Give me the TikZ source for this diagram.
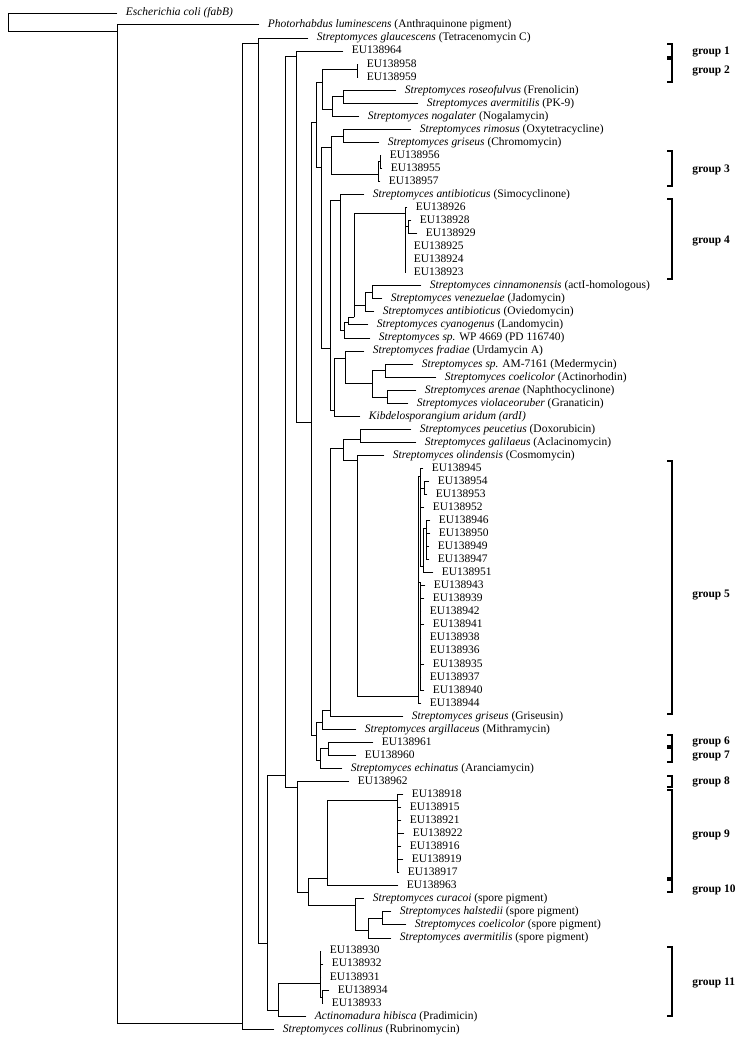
\documentclass[tikz,border=0pt]{standalone}
\usepackage{fontspec}
\setmainfont{Liberation Serif}

\tikzset{
  leaf/.style={anchor=west, inner xsep=6.5pt, inner ysep=0pt, text height=6.2pt, text depth=1.8pt, font=\fontsize{8.6}{10}\selectfont},
  grp/.style={anchor=west, inner sep=0pt, font=\fontsize{8.6}{10}\selectfont\bfseries},
  branch/.style={line width=0.7pt, line cap=rect},
  brk/.style={line width=0.9pt}
}

\begin{document}
\begin{tikzpicture}[x=0.75pt, y=-0.75pt]
    \useasboundingbox (0,0) rectangle (745,1040);

    % leaves
    \node[leaf] (ecoli) at (117,13) {\textit{Escherichia coli (fabB)}};
    \node[leaf] (photo) at (259,24.5) {\textit{Photorhabdus luminescens} (Anthraquinone pigment)};
    \node[leaf] (glauc) at (308,38) {\textit{Streptomyces glaucescens} (Tetracenomycin C)};
    \node[leaf] (eu964) at (343,51) {EU138964};
    \node[leaf] (eu958) at (358,64.1) {EU138958};
    \node[leaf] (eu959) at (358,77.1) {EU138959};
    \node[leaf] (roseo) at (396,90.2) {\textit{Streptomyces roseofulvus} (Frenolicin)};
    \node[leaf] (averm) at (418,103.2) {\textit{Streptomyces avermitilis} (PK-9)};
    \node[leaf] (nogal) at (359,116.3) {\textit{Streptomyces nogalater} (Nogalamycin)};
    \node[leaf] (rimos) at (411,129.3) {\textit{Streptomyces rimosus} (Oxytetracycline)};
    \node[leaf] (grisc) at (379,142.3) {\textit{Streptomyces griseus} (Chromomycin)};
    \node[leaf] (eu956) at (381,155.4) {EU138956};
    \node[leaf] (eu955) at (382,168.4) {EU138955};
    \node[leaf] (eu957) at (380,181.5) {EU138957};
    \node[leaf] (simo) at (364,194.5) {\textit{Streptomyces antibioticus} (Simocyclinone)};
    \node[leaf] (eu926) at (407,207.6) {EU138926};
    \node[leaf] (eu928) at (411,220.6) {EU138928};
    \node[leaf] (eu929) at (417,233.6) {EU138929};
    \node[leaf] (eu925) at (405,246.7) {EU138925};
    \node[leaf] (eu924) at (405,259.7) {EU138924};
    \node[leaf] (eu923) at (405,272.8) {EU138923};
    \node[leaf] (cinna) at (421,285.8) {\textit{Streptomyces cinnamonensis} (actI-homologous)};
    \node[leaf] (venez) at (382,298.9) {\textit{Streptomyces venezuelae} (Jadomycin)};
    \node[leaf] (ovied) at (374,311.9) {\textit{Streptomyces antibioticus} (Oviedomycin)};
    \node[leaf] (cyano) at (368,324.9) {\textit{Streptomyces cyanogenus} (Landomycin)};
    \node[leaf] (wp) at (370,338) {\textit{Streptomyces sp.} WP 4669 (PD 116740)};
    \node[leaf] (fradi) at (364,351) {\textit{Streptomyces fradiae} (Urdamycin A)};
    \node[leaf] (am) at (413,364.1) {\textit{Streptomyces sp.} AM-7161 (Medermycin)};
    \node[leaf] (coeli) at (436,377.1) {\textit{Streptomyces coelicolor} (Actinorhodin)};
    \node[leaf] (arena) at (416,390.2) {\textit{Streptomyces arenae} (Naphthocyclinone)};
    \node[leaf] (viola) at (408,403.2) {\textit{Streptomyces violaceoruber} (Granaticin)};
    \node[leaf] (kibde) at (360,416.2) {\textit{Kibdelosporangium aridum (ardI)}};
    \node[leaf] (peuce) at (411,429.3) {\textit{Streptomyces peucetius} (Doxorubicin)};
    \node[leaf] (galil) at (416,442.3) {\textit{Streptomyces galilaeus} (Aclacinomycin)};
    \node[leaf] (olind) at (384,455.4) {\textit{Streptomyces olindensis} (Cosmomycin)};
    \node[leaf] (eu945) at (423,468.4) {EU138945};
    \node[leaf] (eu954) at (429,481.5) {EU138954};
    \node[leaf] (eu953) at (427,494.5) {EU138953};
    \node[leaf] (eu952) at (424,507.5) {EU138952};
    \node[leaf] (eu946) at (430,520.6) {EU138946};
    \node[leaf] (eu950) at (430,533.6) {EU138950};
    \node[leaf] (eu949) at (429,546.7) {EU138949};
    \node[leaf] (eu947) at (429,559.7) {EU138947};
    \node[leaf] (eu951) at (433,572.8) {EU138951};
    \node[leaf] (eu943) at (425,585.8) {EU138943};
    \node[leaf] (eu939) at (424,598.8) {EU138939};
    \node[leaf] (eu942) at (421,611.9) {EU138942};
    \node[leaf] (eu941) at (424,624.9) {EU138941};
    \node[leaf] (eu938) at (421,638) {EU138938};
    \node[leaf] (eu936) at (421,651) {EU138936};
    \node[leaf] (eu935) at (424,664.1) {EU138935};
    \node[leaf] (eu937) at (421,677.1) {EU138937};
    \node[leaf] (eu940) at (424,690.1) {EU138940};
    \node[leaf] (eu944) at (421,703.2) {EU138944};
    \node[leaf] (grisg) at (403,716.2) {\textit{Streptomyces griseus} (Griseusin)};
    \node[leaf] (argil) at (356,729.3) {\textit{Streptomyces argillaceus} (Mithramycin)};
    \node[leaf] (eu961) at (373,742.3) {EU138961};
    \node[leaf] (eu960) at (356,755.4) {EU138960};
    \node[leaf] (echin) at (342,768.4) {\textit{Streptomyces echinatus} (Aranciamycin)};
    \node[leaf] (eu962) at (349,781.4) {EU138962};
    \node[leaf] (eu918) at (403,794.5) {EU138918};
    \node[leaf] (eu915) at (401,807.5) {EU138915};
    \node[leaf] (eu921) at (401,820.6) {EU138921};
    \node[leaf] (eu922) at (404,833.6) {EU138922};
    \node[leaf] (eu916) at (401,846.7) {EU138916};
    \node[leaf] (eu919) at (403,859.7) {EU138919};
    \node[leaf] (eu917) at (399,872.7) {EU138917};
    \node[leaf] (eu963) at (398,885.8) {EU138963};
    \node[leaf] (curac) at (364,898.8) {\textit{Streptomyces curacoi} (spore pigment)};
    \node[leaf] (halst) at (391,911.9) {\textit{Streptomyces halstedii} (spore pigment)};
    \node[leaf] (coesp) at (406,924.9) {\textit{Streptomyces coelicolor} (spore pigment)};
    \node[leaf] (avesp) at (391,938) {\textit{Streptomyces avermitilis} (spore pigment)};
    \node[leaf] (eu930) at (321,951) {EU138930};
    \node[leaf] (eu932) at (323,964) {EU138932};
    \node[leaf] (eu931) at (321,977.1) {EU138931};
    \node[leaf] (eu934) at (329,990.1) {EU138934};
    \node[leaf] (eu933) at (323,1003.2) {EU138933};
    \node[leaf] (hibis) at (306,1016.2) {\textit{Actinomadura hibisca} (Pradimicin)};
    \node[leaf] (colli) at (274,1029.3) {\textit{Streptomyces collinus} (Rubrinomycin)};

    % inner nodes
    \coordinate (root) at (8,22);
    \coordinate (A) at (117,31);
    \coordinate (B) at (242,1023);
    \coordinate (C) at (258,43);
    \coordinate (D) at (267,943);
    \coordinate (E) at (285,775);
    \coordinate (G) at (296,56);
    \coordinate (J) at (311,422);
    \coordinate (K) at (316,122);
    \coordinate (M) at (322,82);
    \coordinate (G2n) at (357,69);
    \coordinate (P) at (332,109);
    \coordinate (Q) at (343,96);
    \coordinate (N) at (321,167);
    \coordinate (O) at (331,147);
    \coordinate (RG) at (343,136);
    \coordinate (G3) at (378,174);
    \coordinate (G3a) at (380,161);
    \coordinate (S) at (330,348);
    \coordinate (T) at (340,200);
    \coordinate (T2) at (344,330);
    \coordinate (T3) at (348,322);
    \coordinate (T4) at (354,317);
    \coordinate (T5) at (365,305);
    \coordinate (T6) at (372,292);
    \coordinate (G4) at (405,213);
    \coordinate (G4b) at (408,226);
    \coordinate (S2) at (334,410);
    \coordinate (FR) at (345,358);
    \coordinate (FR2) at (372,383);
    \coordinate (AMC) at (385,370);
    \coordinate (AVn) at (387,397);
    \coordinate (L) at (316,735);
    \coordinate (V) at (322,722);
    \coordinate (U) at (330,710);
    \coordinate (X) at (343,448);
    \coordinate (Y) at (360,439);
    \coordinate (Z) at (357,460);
    \coordinate (G5) at (418,696);
    \coordinate (G5a) at (420,476);
    \coordinate (G5c) at (424,488);
    \coordinate (G5d) at (423,566);
    \coordinate (G5e) at (426,528);
    \coordinate (G5b) at (420,582);
    \coordinate (W) at (320,760);
    \coordinate (W2) at (328,748);
    \coordinate (H) at (297,787);
    \coordinate (I) at (308,892);
    \coordinate (G9) at (327,878);
    \coordinate (G9b) at (397,800);
    \coordinate (SP) at (355,905);
    \coordinate (SP2) at (368,930);
    \coordinate (SP3) at (382,918);
    \coordinate (F) at (278,1010);
    \coordinate (G11) at (320,983);
    \coordinate (G11b) at (322,997);

    % vertical bars of the clades
    \foreach \p/\a/\b in {root/ecoli/A, A/photo/B, B/C/colli, C/glauc/D, D/E/F, E/G/H,
        G/eu964/J, J/K/L, K/M/N, M/G2n/P, G2n/eu958/eu959, P/Q/nogal, Q/roseo/averm,
        N/O/S, O/RG/G3, RG/rimos/grisc, G3/G3a/eu957, G3a/eu956/eu955, S/T/S2,
        T/simo/T2, T2/T3/wp, T3/T4/cyano, T4/G4/T4, G4/eu926/eu923, G4b/eu928/eu929,
        T5/T6/ovied, T6/cinna/venez, S2/FR/kibde, FR/fradi/FR2, FR2/AMC/AVn,
        AMC/am/coeli, AVn/arena/viola, L/V/W, V/U/argil, U/X/grisg, X/Y/Z,
        Y/peuce/galil, Z/olind/G5, G5/G5a/eu944, G5a/eu945/G5d, G5c/eu954/eu953,
        G5d/G5e/eu951, G5e/eu946/eu947, G5b/G5b/eu940, W/W2/echin, W2/eu961/eu960,
        H/eu962/I, I/G9/SP, G9/G9b/eu963, G9b/eu918/eu917, SP/curac/SP2,
        SP2/SP3/avesp, SP3/halst/coesp, F/G11/hibis, G11/eu930/G11b, G11b/eu934/eu933}
        \draw[branch] (\p |- \a) -- (\p |- \b);

    % branches
    \foreach \p/\c in {root/ecoli, root/A, A/photo, A/B, B/C, B/colli, C/glauc, C/D,
        D/E, D/F, E/G, E/H, G/eu964, G/J, J/K, J/L, K/M, K/N, M/G2n, M/P,
        G2n/eu958, G2n/eu959, P/Q, P/nogal, Q/roseo, Q/averm, N/O, N/S, O/RG, O/G3,
        RG/rimos, RG/grisc, G3/G3a, G3/eu957, G3a/eu956, G3a/eu955, S/T, S/S2,
        T/simo, T/T2, T2/T3, T2/wp, T3/T4, T3/cyano, T4/G4, T4/T5,
        G4/eu926, G4/G4b, G4/eu925, G4/eu924, G4/eu923, G4b/eu928, G4b/eu929,
        T5/T6, T5/ovied, T6/cinna, T6/venez, S2/FR, S2/kibde, FR/fradi, FR/FR2,
        FR2/AMC, FR2/AVn, AMC/am, AMC/coeli, AVn/arena, AVn/viola,
        L/V, L/W, V/U, V/argil, U/X, U/grisg, X/Y, X/Z, Y/peuce, Y/galil,
        Z/olind, Z/G5, G5/G5a, G5/G5b, G5/eu944,
        G5a/eu945, G5a/G5c, G5a/eu952, G5a/G5d, G5c/eu954, G5c/eu953,
        G5d/G5e, G5d/eu951, G5e/eu946, G5e/eu950, G5e/eu949, G5e/eu947,
        G5b/eu943, G5b/eu939, G5b/eu942, G5b/eu941, G5b/eu938, G5b/eu936,
        G5b/eu935, G5b/eu937, G5b/eu940,
        W/W2, W/echin, W2/eu961, W2/eu960, H/eu962, H/I, I/G9, I/SP,
        G9/G9b, G9/eu963, G9b/eu918, G9b/eu915, G9b/eu921, G9b/eu922,
        G9b/eu916, G9b/eu919, G9b/eu917, SP/curac, SP/SP2, SP2/SP3, SP2/avesp,
        SP3/halst, SP3/coesp, F/G11, F/hibis, G11/eu930, G11/eu932, G11/eu931,
        G11/G11b, G11b/eu934, G11b/eu933}
        \draw[branch] (\p |- \c) -- (\c);

    % groups
    \foreach \t/\b/\l/\n in {44/57/52/1, 59/82/71/2, 151/186/170/3, 199/279/241/4,
        461/714/595/5, 735/746/742/6, 748/762/756/7, 776/787/782/8,
        790/878/835/9, 880/892/890/10, 947/1016/983/11}
    {
        \draw[brk] (667,\t) -- (672,\t) -- (672,\b) -- (667,\b);
        \node[grp] (grp\n) at (692,\l) {group \n};
    }
\end{tikzpicture}
\end{document}
